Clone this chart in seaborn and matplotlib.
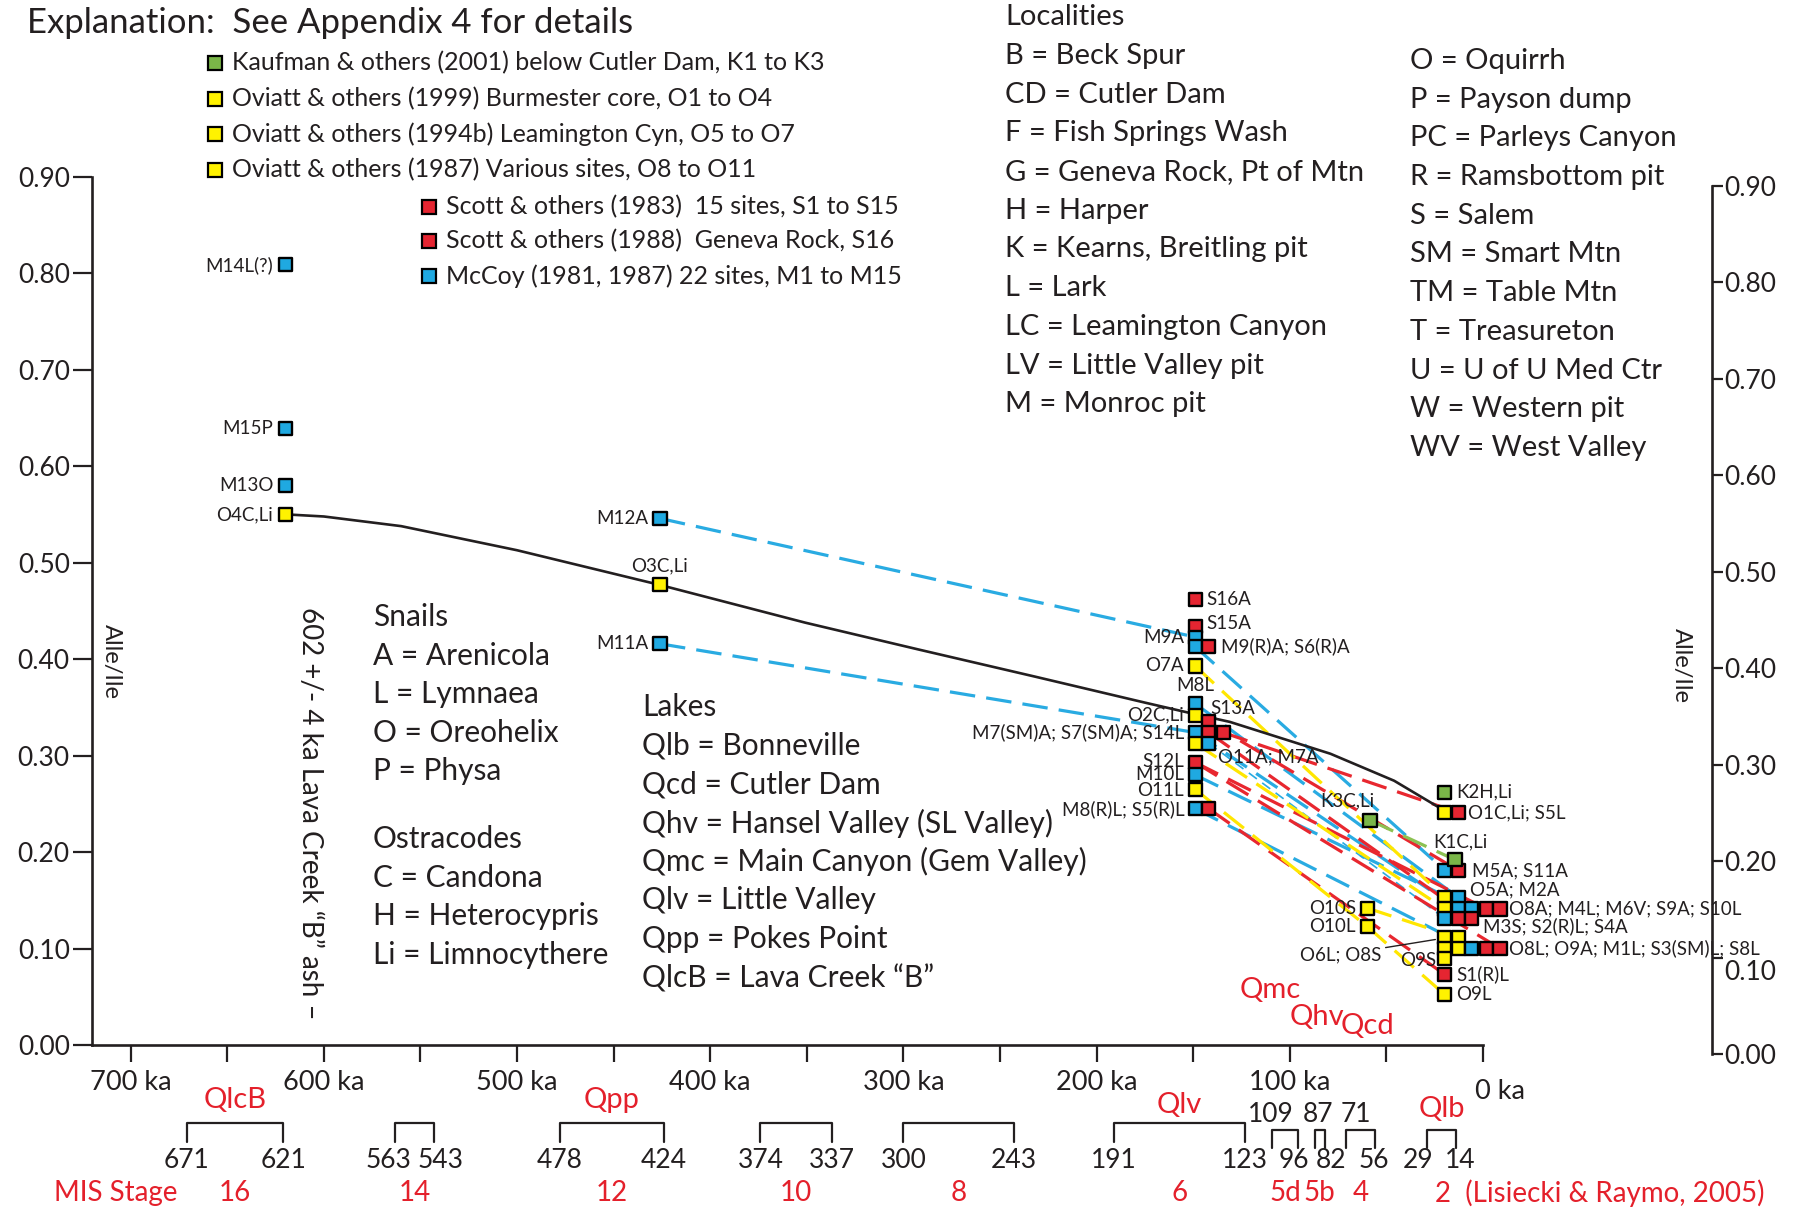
import numpy as np
import pandas as pd
import matplotlib
matplotlib.use("Agg")
import matplotlib.pyplot as plt
import matplotlib.transforms as mtransforms
from matplotlib.lines import Line2D
import seaborn as sns

# ------------------------------------------------------------------ data
point_names = [
    "M14L(?)", "M15P", "M13O", "O4C,Li", "M12A", "O3C,Li", "M11A",
    "S16A", "S15A", "M9A", "M9(R)A", "S6(R)A", "O7A", "M8L", "O2C,Li", "S13A",
    "M7(SM)A", "S7(SM)A", "S14L", "O11A", "M7A", "S12L", "M10L", "O11L",
    "M8(R)L", "S5(R)L",
    "K3C,Li", "O10S", "O10L",
    "K2H,Li", "O1C,Li", "S5L", "M5A", "S11A", "K1C,Li",
    "O5A", "M2A", "O8A", "M4L", "M6V", "S9A", "S10L", "M3S", "S2(R)L", "S4A",
    "O6L", "O8S", "O8L", "O9A", "M1L", "S3(SM)L", "S8L", "O9S", "S1(R)L", "O9L",
]
point_sources = [
    "M", "M", "M", "O", "M", "O", "M",
    "S", "S", "M", "M", "S", "O", "M", "O", "S",
    "M", "S", "S", "O", "M", "S", "M", "O",
    "M", "S",
    "K", "O", "O",
    "K", "O", "S", "M", "S", "K",
    "O", "M", "O", "M", "M", "S", "S", "M", "S", "S",
    "O", "O", "O", "O", "M", "S", "S", "O", "S", "O",
]
point_ages = [
    620, 620, 620, 620, 426, 426, 426,
    149, 149, 149, 149, 142, 149, 149, 149, 142,
    149, 142, 134.5, 149, 142, 149, 149, 149,
    149, 142,
    58.5, 60, 60,
    19.7, 19.7, 12.8, 19.7, 12.8, 14.5,
    19.7, 12.8, 19.7, 12.8, 5.8, -1.9, -8.8, 19.7, 12.8, 5.8,
    19.7, 12.8, 19.7, 12.8, 5.8, -1.9, -8.8, 19.7, 19.7, 19.7,
]
point_ratios = [
    0.809, 0.639, 0.580, 0.550, 0.546, 0.477, 0.416,
    0.462, 0.434, 0.423, 0.413, 0.413, 0.393, 0.354, 0.342, 0.335,
    0.324, 0.324, 0.324, 0.313, 0.313, 0.293, 0.280, 0.265,
    0.245, 0.245,
    0.233, 0.142, 0.123,
    0.262, 0.241, 0.241, 0.181, 0.181, 0.192,
    0.153, 0.153, 0.141, 0.141, 0.141, 0.141, 0.141, 0.131, 0.131, 0.131,
    0.111, 0.111, 0.100, 0.100, 0.100, 0.100, 0.100, 0.090, 0.073, 0.052,
]

# solid trend curve (Oviatt Burmester core samples O4 -> O1)
curve_ages = [618, 600, 560, 500, 426, 351, 292, 232, 175, 149, 131, 79, 46, 20]
curve_ratios = [0.550, 0.548, 0.538, 0.513, 0.477, 0.438, 0.410, 0.382, 0.355,
                0.343, 0.335, 0.302, 0.274, 0.243]

# dashed correlation lines (from -> to)
conn_from = ["M12A", "M11A", "M9(R)A", "M8L", "M7(SM)A", "M7A", "M10L", "M8(R)L",
             "S14L", "S13A", "S7(SM)A", "S12L", "S12L", "S5(R)L",
             "O7A", "O11A", "O11L", "O10L", "O10S",
             "K3C,Li"]
conn_to = ["M9A", "M7(SM)A", "M5A", "M2A", "M4L", "M3S", "M6V", "M1L",
           "S5L", "S11A", "S4A", "S9A", "S8L", "S1(R)L",
           "O5A", "O8A", "O10L", "O9L", "O8S",
           "K1C,Li"]
conn_thin = [False, False, False, False, False, True, False, False,
             False, False, False, False, False, False,
             False, False, False, False, False,
             False]

legend_sources = ["K", "O", "O", "O", "S", "S", "M"]
legend_texts = [
    "Kaufman & others (2001) below Cutler Dam, K1 to K3",
    "Oviatt & others (1999) Burmester core, O1 to O4",
    "Oviatt & others (1994b) Leamington Cyn, O5 to O7",
    "Oviatt & others (1987) Various sites, O8 to O11",
    "Scott & others (1983)  15 sites, S1 to S15",
    "Scott & others (1988)  Geneva Rock, S16",
    "McCoy (1981, 1987) 22 sites, M1 to M15",
]
localities_1 = ["B = Beck Spur", "CD = Cutler Dam", "F = Fish Springs Wash",
                "G = Geneva Rock, Pt of Mtn", "H = Harper", "K = Kearns, Breitling pit",
                "L = Lark", "LC = Leamington Canyon", "LV = Little Valley pit",
                "M = Monroc pit"]
localities_2 = ["O = Oquirrh", "P = Payson dump", "PC = Parleys Canyon",
                "R = Ramsbottom pit", "S = Salem", "SM = Smart Mtn", "TM = Table Mtn",
                "T = Treasureton", "U = U of U Med Ctr", "W = Western pit",
                "WV = West Valley"]
snails = ["Snails", "A = Arenicola", "L = Lymnaea", "O = Oreohelix", "P = Physa"]
ostracodes = ["Ostracodes", "C = Candona", "H = Heterocypris", "Li = Limnocythere"]
lakes = ["Lakes", "Qlb = Bonneville", "Qcd = Cutler Dam",
         "Qhv = Hansel Valley (SL Valley)", "Qmc = Main Canyon (Gem Valley)",
         "Qlv = Little Valley", "Qpp = Pokes Point", "QlcB = Lava Creek \u201cB\u201d"]

mis_start = [671, 563, 478, 374, 300, 191, 109, 87, 71, 29]
mis_end = [621, 543, 424, 337, 243, 123, 96, 82, 56, 14]
mis_stage = ["16", "14", "12", "10", "8", "6", "5d", "5b", "4", "2"]
lake_codes = ["QlcB", "Qpp", "Qlv", "Qlb"]
lake_code_ages = [646, 451, 157, 21.5]
inner_codes = ["Qmc", "Qhv", "Qcd"]
inner_ages = [110, 86, 60]
inner_ratios = [0.057, 0.029, 0.020]

x_ticks = [700, 600, 500, 400, 300, 200, 100, 0]
x_minor = [650, 550, 450, 350, 250, 150, 50]
x_ticklabels = ["700 ka", "600 ka", "500 ka", "400 ka", "300 ka", "200 ka", "100 ka", "0 ka"]
y_ticks = [0.0, 0.1, 0.2, 0.3, 0.4, 0.5, 0.6, 0.7, 0.8, 0.9]

# ------------------------------------------------------------------ style
sns.set_style("white")
plt.rcParams["font.family"] = ["Lato", "DejaVu Sans"]

W, H = 1802, 1213
colors = {"K": "#7ab648", "O": "#fff200", "S": "#e52531", "M": "#1fa9e1"}
line_colors = {"K": "#8cc152", "O": "#ffe600", "S": "#e8272f", "M": "#29abe2"}
RED = "#e4202b"
INK = "#231f20"


def fx(px):
    return px / W


def fy(py):
    return 1 - py / H


fig = plt.figure(figsize=(W / 100, H / 100), dpi=100)
ax = fig.add_axes([fx(92), fy(1045), (1512 - 92) / W, (1045 - 177) / H])
ax.set_xlim(720, -15)
ax.set_ylim(0, 0.9)
ax.patch.set_alpha(0)

df = pd.DataFrame({"name": point_names, "source": point_sources,
                   "age": point_ages, "ratio": point_ratios})
pos = {n: (a, r) for n, a, r in zip(point_names, point_ages, point_ratios)}
src = dict(zip(point_names, point_sources))

# dashed lines
for f, t, thin in zip(conn_from, conn_to, conn_thin):
    seg = pd.DataFrame({"age": [pos[f][0], pos[t][0]], "ratio": [pos[f][1], pos[t][1]]})
    lw = 1.2 if thin else 2.3
    ax.plot(seg["age"], seg["ratio"], color=line_colors[src[f]], lw=lw,
            dashes=(8, 3.5) if not thin else (6, 4), zorder=2, solid_capstyle="butt")

# black curve
curve = pd.DataFrame({"age": curve_ages, "ratio": curve_ratios})
sns.lineplot(data=curve, x="age", y="ratio", sort=False, color=INK, lw=1.9,
             ax=ax, zorder=3, estimator=None)

# squares
sns.scatterplot(data=df, x="age", y="ratio", hue="source", palette=colors,
                marker="s", s=9.4 ** 2, edgecolor="black", linewidth=1.7,
                legend=False, ax=ax, zorder=5, clip_on=False)

# point labels
small = 13.5
mid = 13.5
labels = [
    ("M14L(?)", "M14L(?)", -12, 0, "right", small),
    ("M15P", "M15P", -12, 0, "right", small),
    ("M13O", "M13O", -12, 0, "right", small),
    ("O4C,Li", "O4C,Li", -12, 0, "right", small),
    ("M12A", "M12A", -12, 0, "right", small),
    ("O3C,Li", "O3C,Li", 0, 19, "center", small),
    ("M11A", "M11A", -12, 0, "right", small),
    ("S16A", "S16A", 11, 0, "left", mid),
    ("S15A", "S15A", 11, 3, "left", mid),
    ("M9A", "M9A", -11, 0, "right", mid),
    ("M9(R)A; S6(R)A", "S6(R)A", 12, 0, "left", mid),
    ("O7A", "O7A", -11, 0, "right", mid),
    ("M8L", "M8L", 0, 18, "center", mid),
    ("S13A", "S13A", 2, 13, "left", mid),
    ("O2C,Li", "O2C,Li", -11, 0, "right", mid),
    ("M7(SM)A; S7(SM)A; S14L", "M7(SM)A", -11, 0, "right", mid),
    ("O11A; M7A", "M7A", 9, -14, "left", mid),
    ("S12L", "S12L", -11, 1, "right", mid),
    ("M10L", "M10L", -11, 0, "right", mid),
    ("O11L", "O11L", -11, -1, "right", mid),
    ("M8(R)L; S5(R)L", "M8(R)L", -11, 0, "right", mid),
    ("K3C,Li", "K3C,Li", 4, 19, "right", mid),
    ("O10S", "O10S", -11, 0, "right", mid),
    ("O10L", "O10L", -11, 0, "right", mid),
    ("K2H,Li", "K2H,Li", 11, 0, "left", mid),
    ("O1C,Li; S5L", "S5L", 10, 0, "left", mid),
    ("K1C,Li", "K1C,Li", 5, 18, "center", mid),
    ("M5A; S11A", "S11A", 14, 0, "left", mid),
    ("O5A; M2A", "M2A", 12, 8, "left", mid),
    ("O8A; M4L; M6V; S9A; S10L", "S10L", 9, 0, "left", mid),
    ("M3S; S2(R)L; S4A", "S4A", 11, -8, "left", mid),
    ("O8L; O9A; M1L; S3(SM)L; S8L", "S8L", 9, 0, "left", mid),
    ("O9S", "O9S", -9, -2, "right", mid),
    ("S1(R)L", "S1(R)L", 11, 0, "left", mid),
    ("O9L", "O9L", 11, 0, "left", mid),
]
for txt, anchor, dx, dy, ha, fs in labels:
    ax.annotate(txt, pos[anchor], xytext=(dx, dy), textcoords="offset pixels",
                ha=ha, va="center", fontsize=fs, color=INK, zorder=6,
                annotation_clip=False)

ax.annotate("O6L; O8S", pos["O6L"], xytext=(-64, -17), textcoords="offset pixels",
            ha="right", va="center", fontsize=mid, color=INK, zorder=6,
            arrowprops=dict(arrowstyle="-", color=INK, lw=1.0, shrinkA=1, shrinkB=7))

# inner red lake codes
for c, a, r in zip(inner_codes, inner_ages, inner_ratios):
    ax.text(a, r, c, color=RED, fontsize=21, ha="center", va="center", zorder=6)

# rotated ash text and axis titles
ax.text(607, 0.24, "602 +/- 4 ka Lava Creek \u201cB\u201d ash \u2013", rotation=270,
        ha="center", va="center", fontsize=20, color=INK)
ax.text(710, 0.398, "Alle/Ile", rotation=270, ha="center", va="center",
        fontsize=17, color=INK)
fig.text(fx(1681), fy(666), "Alle/Ile", rotation=270, ha="center", va="center",
         fontsize=17, color=INK)

# ------------------------------------------------------------------ axes styling
for s in ["top", "right"]:
    ax.spines[s].set_visible(False)
for s in ["left", "bottom"]:
    ax.spines[s].set_linewidth(1.9)
    ax.spines[s].set_color(INK)
ax.spines["left"].set_bounds(0, 0.9)
ax.spines["bottom"].set_bounds(0, 720)

ax.set_yticks(y_ticks)
ax.set_yticklabels([f"{v:.2f}" for v in y_ticks])
ax.set_xticks(x_ticks)
ax.set_xticklabels(x_ticklabels)
ax.set_xticks(x_minor, minor=True)
ax.tick_params(axis="y", which="major", direction="out", length=14, width=1.6,
               labelsize=19, pad=2, color=INK, labelcolor=INK, left=True)
ax.tick_params(axis="x", which="both", direction="out", length=12, width=1.6,
               labelsize=19.5, pad=6, color=INK, labelcolor=INK, bottom=True)
ax.set_xlabel("")
ax.set_ylabel("")
for lab in ax.get_xticklabels():
    if lab.get_text() == "0 ka":
        lab.set_transform(lab.get_transform() +
                          mtransforms.ScaledTranslation(0.17, -0.09, fig.dpi_scale_trans))

# right-hand axis
axr = fig.add_axes([fx(1700), fy(1054), 12 / W, (1054 - 186) / H])
axr.set_ylim(0, 0.9)
axr.patch.set_alpha(0)
for s in ["top", "left", "bottom"]:
    axr.spines[s].set_visible(False)
axr.spines["right"].set_linewidth(1.9)
axr.spines["right"].set_color(INK)
axr.set_xticks([])
axr.yaxis.tick_right()
axr.set_yticks(y_ticks)
axr.set_yticklabels([f"{v:.2f}" for v in y_ticks])
axr.tick_params(axis="y", direction="out", length=8, width=1.6, labelsize=19,
                pad=1, color=INK, labelcolor=INK)
for lab in axr.get_yticklabels():
    if lab.get_text() == "0.10":
        lab.set_transform(lab.get_transform() +
                          mtransforms.ScaledTranslation(0, -0.12, fig.dpi_scale_trans))

# ------------------------------------------------------------------ bottom: MIS brackets
bt = mtransforms.blended_transform_factory(ax.transData, fig.transFigure)
big = [True, True, True, True, True, True, False, False, False, False]
px = mtransforms.ScaledTranslation
num_off = {"563": -7, "543": 7, "96": -4, "82": 6, "56": -1, "29": -9, "14": 4}
top_off = {"109": -2, "87": 3, "71": 10}
for a0, a1, st, isbig in zip(mis_start, mis_end, mis_stage, big):
    ytop = fy(1123) if isbig else fy(1130)
    ybot = fy(1142) if isbig else fy(1148)
    ax.add_line(Line2D([a0, a0, a1, a1], [ybot, ytop, ytop, ybot], transform=bt,
                       color=INK, lw=1.6, clip_on=False))
    if isbig or st == "2":
        for v in (a0, a1):
            t = str(v)
            ax.text(v, fy(1161), t,
                    transform=bt + px(num_off.get(t, 0) / 100, 0, fig.dpi_scale_trans),
                    ha="center", va="center", fontsize=19, color=INK)
    else:
        t0, t1 = str(a0), str(a1)
        ax.text(a0, fy(1115), t0,
                transform=bt + px(top_off.get(t0, 0) / 100, 0, fig.dpi_scale_trans),
                ha="center", va="center", fontsize=19, color=INK)
        ax.text(a1, fy(1161), t1,
                transform=bt + px(num_off.get(t1, 0) / 100, 0, fig.dpi_scale_trans),
                ha="center", va="center", fontsize=19, color=INK)
    if st == "2":
        ax.text(24.8, fy(1193), "2  (Lisiecki & Raymo, 2005)", transform=bt,
                ha="left", va="center", fontsize=20, color=RED)
    else:
        ax.text((a0 + a1) / 2, fy(1193), st, transform=bt, ha="center", va="center",
                fontsize=20, color=RED)

fig.text(fx(54), fy(1193), "MIS Stage", ha="left", va="center", fontsize=20, color=RED)
lake_y = [1100, 1100, 1105, 1109]
for c, a, yy in zip(lake_codes, lake_code_ages, lake_y):
    ax.text(a, fy(yy), c, transform=bt, ha="center", va="center", fontsize=21, color=RED)

# ------------------------------------------------------------------ explanation / legend
fig.text(fx(27), fy(23), "Explanation:  See Appendix 4 for details", ha="left",
         va="center", fontsize=25, color=INK)
leg_pos = [(215, 63), (215, 99), (215, 134), (215, 170), (429, 207), (429, 241), (429, 276)]
for (lx, ly), s_, t in zip(leg_pos, legend_sources, legend_texts):
    fig.add_artist(Line2D([fx(lx)], [fy(ly)], transform=fig.transFigure, marker="s",
                          markersize=9.5, markerfacecolor=colors[s_],
                          markeredgecolor="black", markeredgewidth=1.6, linestyle="none"))
    fig.text(fx(lx + 17), fy(ly), t, ha="left", va="center", fontsize=18, color=INK)

fig.text(fx(1005), fy(17), "Localities", ha="left", va="center", fontsize=21, color=INK)
for i, t in enumerate(localities_1):
    fig.text(fx(1005), fy(56 + i * 38.7), t, ha="left", va="center", fontsize=21, color=INK)
for i, t in enumerate(localities_2):
    fig.text(fx(1410), fy(61 + i * 38.7), t, ha="left", va="center", fontsize=21, color=INK)

snail_y = [617, 656, 694, 733, 771]
for t, yy in zip(snails, snail_y):
    fig.text(fx(373), fy(yy), t, ha="left", va="center", fontsize=21.5, color=INK)
ostra_y = [839, 878, 916, 955]
for t, yy in zip(ostracodes, ostra_y):
    fig.text(fx(373), fy(yy), t, ha="left", va="center", fontsize=21.5, color=INK)
for i, t in enumerate(lakes):
    fig.text(fx(642), fy(707 + i * 38.7), t, ha="left", va="center", fontsize=21.5, color=INK)

fig.savefig("out.png", dpi=100)
